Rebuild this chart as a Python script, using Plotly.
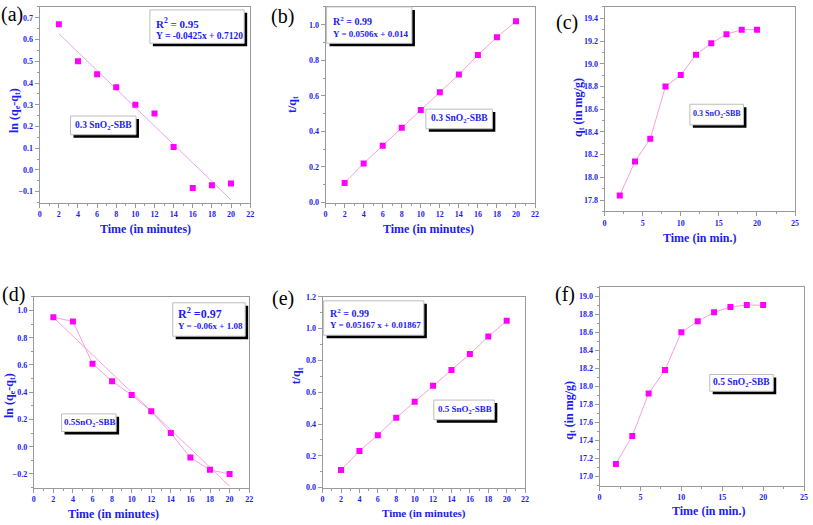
import plotly.graph_objects as go

W, H = 813, 525

# ---------------- data ----------------
time = [2, 4, 6, 8, 10, 12, 14, 16, 18, 20]

a_y = [0.67, 0.50, 0.44, 0.38, 0.30, 0.26, 0.105, -0.083, -0.07, -0.062]
a_fit_x = [2, 20]
a_fit_y = [0.627, -0.138]

b_y = [0.11, 0.22, 0.32, 0.42, 0.52, 0.62, 0.72, 0.83, 0.93, 1.02]

c_y = [17.84, 18.14, 18.34, 18.80, 18.90, 19.08, 19.18, 19.26, 19.30, 19.30]

d_y = [0.95, 0.92, 0.61, 0.48, 0.38, 0.26, 0.10, -0.08, -0.17, -0.20]
d_fit_x = [2, 20]
d_fit_y = [0.95, -0.29]

e_y = [0.11, 0.23, 0.33, 0.44, 0.54, 0.64, 0.74, 0.84, 0.95, 1.05]

f_y = [17.14, 17.45, 17.92, 18.18, 18.60, 18.72, 18.82, 18.88, 18.90, 18.90]

# ---------------- style ----------------
BLUE = "#1c1cf0"
MAG = "#ff00ff"
LINE = "#f7a0dc"
AX = "#9a9a9a"
SERIF = "Liberation Serif"


def px(x):
    return x / W


def py(y):
    return 1 - y / H


fig = go.Figure()

# panel domains in pixels: (x0, x1, ytop, ybottom)
panels = [
    dict(dom=(38, 250, 3, 202), xr=[0, 22], xd=2, xm=1, yr=[-0.15, 0.75], yd=0.1, ym=0.05),
    dict(dom=(326, 537, 3, 202), xr=[0, 22], xd=2, xm=1, yr=[0, 1.1], yd=0.2, ym=0.1),
    dict(dom=(607, 799, 3, 211), xr=[0, 25], xd=5, xm=2.5, yr=[17.7, 19.5], yd=0.2, ym=0.1),
    dict(dom=(32, 249, 298, 492), xr=[0, 22], xd=2, xm=1, yr=[-0.3, 1.1], yd=0.2, ym=0.1),
    dict(dom=(323, 527, 298, 492), xr=[0, 22], xd=2, xm=1, yr=[0, 1.2], yd=0.2, ym=0.1),
    dict(dom=(602, 808, 288, 490), xr=[0, 25], xd=5, xm=2.5, yr=[16.9, 19.1], yd=0.2, ym=0.1),
]

for i, p in enumerate(panels, start=1):
    x0, x1, yt, yb = p["dom"]
    sfx = "" if i == 1 else str(i)
    common = dict(
        showline=True, linecolor=AX, linewidth=1, mirror=True,
        ticks="outside", ticklen=4, tickcolor=AX, tickwidth=1,
        showgrid=False, zeroline=False,
        tickfont=dict(family=SERIF, size=8, color=BLUE, weight="bold"),
    )
    fig.layout["xaxis" + sfx] = dict(
        domain=[px(x0), px(x1)], range=p["xr"], dtick=p["xd"], tick0=0,
        anchor="y" + sfx,
        minor=dict(ticks="outside", ticklen=2, tickcolor=AX, dtick=p["xm"]),
        **common,
    )
    fig.layout["yaxis" + sfx] = dict(
        domain=[py(yb), py(yt)], range=p["yr"], dtick=p["yd"], tick0=0,
        tickformat=".1f", anchor="x" + sfx,
        minor=dict(ticks="outside", ticklen=2, tickcolor=AX, dtick=p["ym"]),
        **common,
    )

mk = dict(symbol="square", size=6, color=MAG)

# (a)
fig.add_trace(go.Scatter(x=a_fit_x, y=a_fit_y, mode="lines", line=dict(color="#e8a6ee", width=1), xaxis="x", yaxis="y", showlegend=False))
fig.add_trace(go.Scatter(x=time, y=a_y, mode="markers", marker=mk, xaxis="x", yaxis="y", showlegend=False))
# (b)
fig.add_trace(go.Scatter(x=time, y=b_y, mode="lines+markers", line=dict(color=LINE, width=1), marker=mk, xaxis="x2", yaxis="y2", showlegend=False))
# (c)
fig.add_trace(go.Scatter(x=time, y=c_y, mode="lines+markers", line=dict(color=LINE, width=1), marker=mk, xaxis="x3", yaxis="y3", showlegend=False))
# (d)
fig.add_trace(go.Scatter(x=d_fit_x, y=d_fit_y, mode="lines", line=dict(color=LINE, width=1), xaxis="x4", yaxis="y4", showlegend=False))
fig.add_trace(go.Scatter(x=time, y=d_y, mode="lines+markers", line=dict(color=LINE, width=1), marker=mk, xaxis="x4", yaxis="y4", showlegend=False))
# (e)
fig.add_trace(go.Scatter(x=time, y=e_y, mode="lines+markers", line=dict(color=LINE, width=1), marker=mk, xaxis="x5", yaxis="y5", showlegend=False))
# (f)
fig.add_trace(go.Scatter(x=time, y=f_y, mode="lines+markers", line=dict(color=LINE, width=1), marker=mk, xaxis="x6", yaxis="y6", showlegend=False))

shapes = []
annots = []


def box(x0, y0, x1, y1, off=3):
    shapes.append(dict(type="rect", xref="paper", yref="paper",
                       x0=px(x0 + off), x1=px(x1 + off), y0=py(y1 + off), y1=py(y0 + off),
                       fillcolor="black", line=dict(width=0), layer="above"))
    shapes.append(dict(type="rect", xref="paper", yref="paper",
                       x0=px(x0), x1=px(x1), y0=py(y1), y1=py(y0),
                       fillcolor="white", line=dict(color="#bdbdbd", width=1), layer="above"))


def text(x, y, s, size=11, xanchor="center", angle=0, color=BLUE, bold=True, family=SERIF):
    annots.append(dict(x=px(x), y=py(y), xref="paper", yref="paper", text=s,
                       showarrow=False, xanchor=xanchor, yanchor="middle", textangle=angle,
                       borderpad=0,
                       font=dict(family=family, size=size, color=color, weight="bold" if bold else "normal")))


# equation / label boxes
box(149, 6, 244, 40)
text(154, 19, "R<sup>2</sup> = 0.95", 11, "left")
text(154, 33, "Y = -0.0425x + 0.7120", 9.5, "left")
box(69, 114, 135, 133)
text(102, 124, "0.3 SnO<sub>2</sub>-SBB", 9.5)

box(327, 3, 413, 40)
text(332, 17, "R<sup>2</sup> = 0.99", 10, "left")
text(332, 31, "Y = 0.0506x + 0.014", 9, "left")
box(427, 107, 494, 127)
text(461, 117, "0.3 SnO<sub>2</sub>-SBB", 9.5)

box(693, 102, 747, 123)
text(720, 112, "0.3 SnO<sub>2</sub>-SBB", 8)

box(172, 304, 245, 338)
text(176, 315, "R<sup>2</sup> =0.97", 12, "left")
text(176, 328, "Y = -0.06x + 1.08", 9, "left")
box(60, 417, 115, 435)
text(88, 426, "0.5SnO<sub>2</sub>-SBB", 9)

box(324, 302, 425, 337)
text(329, 314, "R<sup>2</sup> = 0.99", 10, "left")
text(329, 327, "Y = 0.05167 x + 0.01867", 9, "left")
box(435, 403, 496, 423)
text(466, 413, "0.5 SnO<sub>2</sub>-SBB", 9)

box(713, 377, 777, 394)
text(745, 385, "0.5 SnO<sub>2</sub>-SBB", 9.5)

# axis titles
text(145, 229, "Time (in minutes)", 12)
text(430, 229, "Time (in minutes)", 12)
text(703, 238, "Time (in min.)", 12)
text(112, 519, "Time (in minutes)", 12)
text(425, 518, "Time (in minutes)", 11)
text(712, 516, "Time (in min.)", 12)

text(13, 108, "ln (q<sub>e</sub>-q<sub>t</sub>)", 12, angle=-90)
text(293, 102, "t/q<sub>t</sub>", 12, angle=-90)
text(581, 105, "q<sub>t</sub> (in mg/g)", 12, angle=-90)
text(8, 398, "ln (q<sub>e</sub>-q<sub>t</sub>)", 12, angle=-90)
text(297, 378, "t/q<sub>t</sub>", 12, angle=-90)
text(572, 413, "q<sub>t</sub> (in mg/g)", 12, angle=-90)

# panel labels
for lx, ly, lab in [(10, 11, "(a)"), (283, 13, "(b)"), (569, 19, "(c)"),
                    (12, 296, "(d)"), (283, 300, "(e)"), (567, 296, "(f)")]:
    text(lx, ly, lab, 20, color="black", bold=False)

fig.update_layout(
    width=W, height=H,
    margin=dict(l=0, r=0, t=0, b=0),
    paper_bgcolor="white", plot_bgcolor="white",
    shapes=shapes, annotations=annots,
    showlegend=False,
)

fig.write_html("out.html", config={"displayModeBar": False},
               post_script="document.body.style.margin='0';")
